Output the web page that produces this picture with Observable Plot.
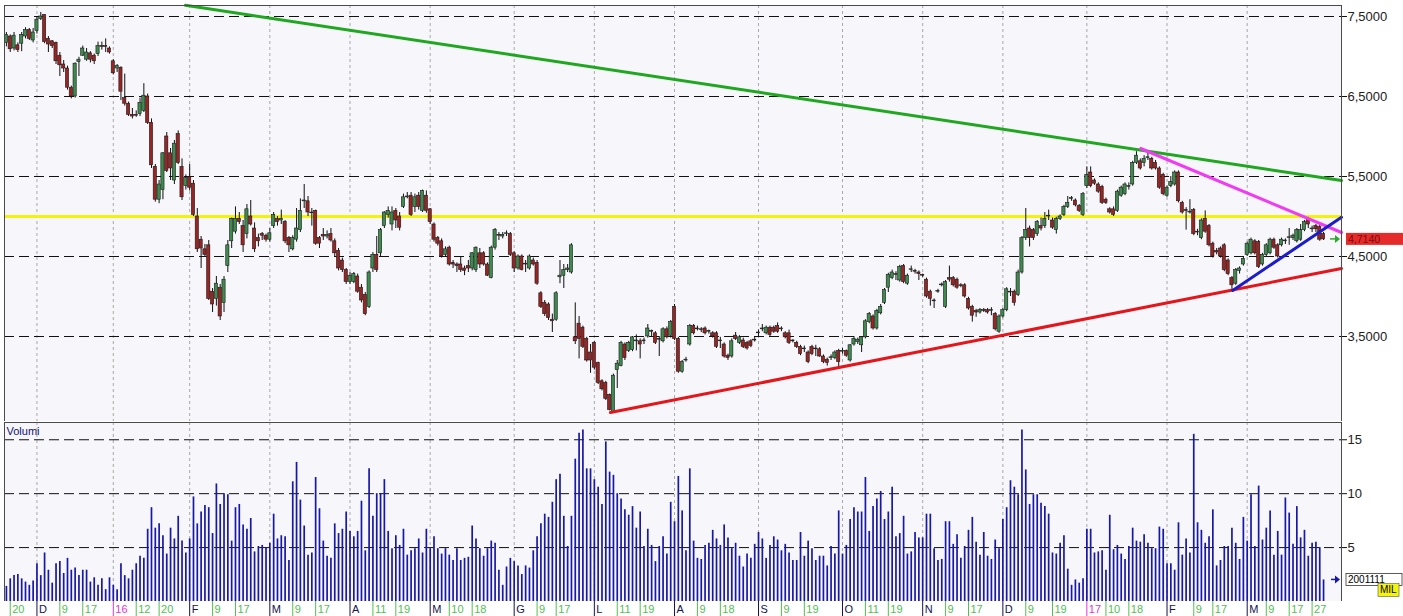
<!DOCTYPE html>
<html><head><meta charset="utf-8">
<script src="https://cdn.jsdelivr.net/npm/d3@7"></script>
<script src="https://cdn.jsdelivr.net/npm/@observablehq/plot@0.6"></script>
<style>
body{margin:0;background:#fff;width:1403px;height:616px;overflow:hidden;font-family:"Liberation Sans",Arial,sans-serif}
#chart svg{display:block}
</style></head><body><div id="chart"></div>
<script>
// Daily candles [open, high, low, close], Nov 19 2015 -> Mar 30 2017
const candles = [
[7.17,7.30,7.12,7.27],[7.25,7.27,7.05,7.09],[7.10,7.30,7.07,7.26],[7.14,7.17,7.05,7.08],[7.16,7.30,7.06,7.27],
[7.25,7.36,7.22,7.33],[7.33,7.35,7.20,7.22],[7.20,7.35,7.17,7.30],[7.32,7.50,7.28,7.46],[7.47,7.55,7.45,7.50],
[7.52,7.52,7.16,7.18],[7.22,7.25,7.05,7.15],[7.19,7.20,7.10,7.13],[7.17,7.18,6.90,6.94],[7.01,7.05,6.75,6.89],
[6.90,6.95,6.80,6.85],[6.85,6.88,6.58,6.61],[6.61,6.63,6.47,6.50],[6.50,6.92,6.48,6.91],[6.93,6.99,6.75,6.96],
[7.01,7.13,7.00,7.10],[6.96,7.10,6.94,7.05],[7.04,7.06,6.92,6.96],[7.01,7.03,6.90,6.94],[7.03,7.18,7.00,7.13],
[7.13,7.18,7.08,7.12],[7.13,7.22,7.05,7.12],[7.10,7.12,7.03,7.05],[6.94,6.96,6.77,6.79],[6.85,6.90,6.80,6.88],
[6.86,6.87,6.45,6.56],[6.48,6.78,6.38,6.41],[6.41,6.43,6.25,6.27],[6.27,6.35,6.22,6.25],[6.27,6.32,6.24,6.26],
[6.28,6.48,6.25,6.42],[6.32,6.66,6.30,6.51],[6.50,6.53,6.15,6.17],[6.17,6.22,5.60,5.64],[5.62,5.65,5.18,5.21],
[5.21,5.45,5.16,5.40],[5.33,5.80,5.21,5.79],[6.00,6.05,5.55,5.57],[5.79,5.85,5.45,5.60],[5.45,5.95,5.40,5.91],
[6.03,6.07,5.65,5.67],[5.62,5.72,5.20,5.24],[5.38,5.52,5.33,5.48],[5.49,5.65,5.32,5.36],[5.41,5.45,5.00,5.02],
[5.00,5.10,4.55,4.59],[4.71,4.75,4.35,4.60],[4.59,4.65,4.50,4.52],[4.64,4.70,3.95,3.97],[4.06,4.10,3.80,3.90],
[3.97,4.25,3.88,4.16],[4.11,4.15,3.70,3.75],[3.92,4.25,3.80,4.21],[4.38,4.70,4.30,4.64],[4.69,4.98,4.60,4.97],
[4.81,5.12,4.78,4.97],[4.97,5.05,4.90,4.93],[4.88,4.95,4.55,4.64],[4.78,5.15,4.72,5.09],[5.00,5.20,4.88,4.90],
[4.85,4.92,4.55,4.59],[4.73,4.78,4.62,4.69],[4.78,4.80,4.70,4.76],[4.76,4.78,4.68,4.71],[4.71,4.85,4.68,4.79],
[4.88,5.05,4.85,5.02],[4.97,5.00,4.88,4.93],[4.95,5.08,4.90,4.97],[4.93,4.95,4.66,4.69],[4.73,4.75,4.55,4.64],
[4.59,4.76,4.57,4.73],[4.71,5.10,4.68,4.85],[4.83,5.22,4.80,5.07],[5.19,5.40,5.10,5.20],[5.19,5.25,5.00,5.05],
[5.05,5.10,4.88,5.04],[5.07,5.08,4.64,4.66],[4.73,4.75,4.60,4.66],[4.77,4.85,4.70,4.75],[4.75,4.82,4.72,4.77],
[4.78,4.85,4.68,4.70],[4.69,4.72,4.50,4.54],[4.57,4.60,4.32,4.35],[4.45,4.48,4.30,4.33],[4.33,4.35,4.15,4.18],
[4.18,4.30,4.15,4.26],[4.18,4.30,4.16,4.28],[4.25,4.28,4.04,4.06],[4.11,4.15,3.92,3.95],[4.02,4.05,3.76,3.78],
[3.87,4.32,3.85,4.30],[4.35,4.55,4.30,4.52],[4.52,4.75,4.30,4.33],[4.54,4.85,4.50,4.83],[4.88,5.06,4.85,5.05],
[5.02,5.12,4.98,5.07],[4.90,5.12,4.82,5.05],[5.07,5.10,4.85,4.95],[5.00,5.05,4.82,4.86],[5.12,5.28,5.10,5.24],
[5.24,5.30,5.22,5.25],[5.26,5.30,5.00,5.02],[5.12,5.28,5.05,5.24],[5.26,5.30,5.08,5.12],[5.07,5.33,5.05,5.32],
[5.26,5.32,5.04,5.07],[5.09,5.10,4.90,4.93],[4.90,4.92,4.68,4.71],[4.73,4.75,4.63,4.66],[4.69,4.72,4.48,4.50],
[4.52,4.62,4.50,4.59],[4.61,4.63,4.38,4.40],[4.42,4.45,4.35,4.40],[4.40,4.42,4.30,4.38],[4.40,4.50,4.30,4.33],
[4.35,4.38,4.26,4.32],[4.38,4.45,4.30,4.35],[4.35,4.55,4.32,4.54],[4.33,4.62,4.30,4.61],[4.54,4.60,4.35,4.40],
[4.54,4.56,4.38,4.40],[4.40,4.42,4.25,4.26],[4.23,4.63,4.22,4.61],[4.61,4.85,4.58,4.83],[4.77,4.80,4.70,4.76],
[4.75,4.80,4.72,4.77],[4.78,4.82,4.75,4.79],[4.78,4.80,4.50,4.52],[4.54,4.56,4.30,4.35],[4.35,4.52,4.33,4.50],
[4.50,4.52,4.32,4.33],[4.40,4.45,4.30,4.41],[4.35,4.52,4.33,4.50],[4.45,4.48,4.38,4.40],[4.42,4.45,4.14,4.16],
[4.04,4.06,3.85,3.87],[3.92,3.95,3.75,3.78],[3.90,3.92,3.70,3.73],[3.71,3.78,3.55,3.69],[3.71,4.06,3.69,4.04],
[4.24,4.45,4.16,4.26],[4.26,4.40,4.10,4.33],[4.33,4.40,4.30,4.35],[4.30,4.66,4.28,4.64],[3.49,3.92,3.40,3.44],
[3.66,3.75,3.22,3.47],[3.61,3.63,3.35,3.37],[3.47,3.49,3.18,3.20],[3.30,3.40,3.04,3.20],[3.42,3.44,3.08,3.11],
[3.17,3.18,2.90,2.92],[2.94,2.96,2.82,2.84],[2.92,2.94,2.70,2.72],[2.77,2.78,2.57,2.58],[2.56,3.03,2.55,3.01],
[3.08,3.20,2.85,3.16],[3.13,3.44,3.12,3.42],[3.40,3.42,3.20,3.23],[3.32,3.44,3.30,3.42],[3.33,3.50,3.31,3.49],
[3.44,3.52,3.32,3.45],[3.44,3.47,3.22,3.40],[3.44,3.48,3.40,3.45],[3.50,3.65,3.48,3.60],[3.57,3.58,3.50,3.56],
[3.54,3.56,3.40,3.42],[3.47,3.50,3.25,3.46],[3.44,3.61,3.42,3.59],[3.59,3.62,3.47,3.49],[3.51,3.70,3.48,3.68],
[3.87,3.90,3.45,3.47],[3.47,3.49,3.04,3.06],[3.06,3.20,3.04,3.18],[3.20,3.24,3.18,3.21],[3.40,3.65,3.38,3.63],
[3.63,3.65,3.52,3.54],[3.59,3.63,3.57,3.60],[3.59,3.61,3.55,3.58],[3.60,3.62,3.52,3.54],[3.56,3.58,3.53,3.57],
[3.54,3.56,3.48,3.50],[3.54,3.56,3.35,3.37],[3.44,3.49,3.35,3.45],[3.40,3.42,3.23,3.25],[3.26,3.28,3.20,3.23],
[3.25,3.47,3.23,3.44],[3.51,3.55,3.45,3.47],[3.42,3.51,3.40,3.49],[3.45,3.48,3.35,3.37],[3.42,3.44,3.33,3.35],
[3.44,3.46,3.36,3.38],[3.46,3.50,3.43,3.45],[3.54,3.58,3.50,3.55],[3.59,3.65,3.56,3.60],[3.54,3.63,3.52,3.61],
[3.61,3.63,3.50,3.52],[3.61,3.63,3.54,3.56],[3.63,3.67,3.54,3.56],[3.59,3.62,3.56,3.60],[3.54,3.56,3.47,3.49],
[3.54,3.58,3.40,3.42],[3.45,3.46,3.42,3.44],[3.42,3.44,3.35,3.37],[3.37,3.39,3.26,3.28],[3.34,3.38,3.30,3.35],
[3.30,3.32,3.16,3.18],[3.37,3.39,3.26,3.28],[3.35,3.39,3.25,3.34],[3.34,3.36,3.24,3.25],[3.25,3.27,3.16,3.18],
[3.21,3.23,3.13,3.17],[3.23,3.27,3.20,3.24],[3.23,3.32,3.21,3.30],[3.32,3.34,3.09,3.18],[3.31,3.35,3.28,3.32],
[3.32,3.33,3.24,3.26],[3.20,3.40,3.18,3.39],[3.40,3.50,3.38,3.47],[3.43,3.48,3.40,3.46],[3.39,3.50,3.30,3.49],
[3.49,3.71,3.47,3.69],[3.68,3.80,3.66,3.78],[3.75,3.77,3.58,3.60],[3.60,3.84,3.58,3.82],[3.79,3.90,3.77,3.87],
[3.92,4.10,3.90,4.08],[4.11,4.29,4.05,4.27],[4.23,4.33,4.21,4.30],[4.27,4.31,4.20,4.28],[4.20,4.39,4.18,4.37],
[4.38,4.40,4.16,4.18],[4.16,4.28,4.14,4.26],[4.33,4.38,4.30,4.34],[4.32,4.34,4.28,4.31],[4.30,4.32,4.20,4.28],
[4.27,4.28,4.24,4.26],[4.21,4.23,3.98,4.00],[4.06,4.08,3.88,3.97],[3.95,3.97,3.85,3.94],[4.06,4.09,4.04,4.07],
[4.14,4.17,4.12,4.15],[3.87,4.20,3.85,4.18],[4.23,4.38,4.18,4.21],[4.23,4.25,4.12,4.14],[4.21,4.23,4.09,4.11],
[4.14,4.16,4.11,4.13],[4.14,4.16,3.98,4.00],[3.97,3.99,3.83,3.85],[3.87,3.89,3.68,3.76],[3.82,3.84,3.74,3.80],
[3.80,3.85,3.78,3.83],[3.83,3.85,3.80,3.82],[3.83,3.85,3.78,3.80],[3.82,3.86,3.76,3.83],[3.78,3.80,3.57,3.59],
[3.56,3.77,3.54,3.75],[3.75,3.85,3.73,3.83],[3.83,4.11,3.81,4.09],[4.06,4.10,4.00,4.05],[4.06,4.08,3.88,3.92],
[4.02,4.33,4.00,4.30],[4.30,4.75,4.28,4.73],[4.73,5.10,4.70,4.83],[4.85,4.88,4.62,4.73],[4.83,4.85,4.70,4.73],
[4.78,4.95,4.75,4.93],[4.88,4.98,4.82,4.85],[4.88,5.05,4.85,4.97],[5.00,5.08,4.95,5.01],[4.95,4.98,4.84,4.86],
[4.83,4.99,4.78,4.97],[4.97,5.02,4.95,5.00],[5.02,5.14,5.00,5.12],[5.12,5.25,5.10,5.17],[5.22,5.25,5.19,5.23],
[5.20,5.22,5.12,5.14],[5.13,5.15,5.05,5.07],[5.02,5.30,5.00,5.28],[5.38,5.62,5.35,5.52],[5.55,5.62,5.36,5.38],
[5.45,5.47,5.39,5.41],[5.40,5.42,5.29,5.31],[5.37,5.39,5.15,5.17],[5.21,5.23,5.15,5.17],[5.09,5.11,5.03,5.05],
[5.09,5.12,5.00,5.02],[5.07,5.33,5.05,5.31],[5.26,5.38,5.24,5.36],[5.28,5.42,5.26,5.40],[5.37,5.42,5.33,5.38],
[5.40,5.69,5.38,5.67],[5.67,5.81,5.65,5.76],[5.69,5.72,5.58,5.60],[5.67,5.76,5.62,5.72],[5.73,5.80,5.70,5.74],
[5.72,5.74,5.58,5.60],[5.67,5.70,5.58,5.60],[5.60,5.62,5.34,5.36],[5.52,5.54,5.26,5.28],[5.26,5.38,5.24,5.36],
[5.38,5.50,5.36,5.43],[5.40,5.57,5.38,5.55],[5.55,5.57,5.17,5.19],[5.17,5.19,5.03,5.05],[5.08,5.11,4.83,5.07],
[5.05,5.21,5.03,5.06],[5.08,5.10,4.76,4.78],[4.81,4.84,4.76,4.80],[4.73,4.97,4.71,4.95],[4.97,5.07,4.79,4.81],
[4.88,4.90,4.62,4.64],[4.66,4.68,4.48,4.50],[4.57,4.60,4.52,4.55],[4.60,4.62,4.48,4.50],[4.64,4.66,4.31,4.33],
[4.45,4.47,4.26,4.28],[4.23,4.25,4.09,4.14],[4.16,4.35,4.14,4.33],[4.32,4.37,4.28,4.35],[4.40,4.50,4.38,4.47],
[4.52,4.68,4.50,4.66],[4.54,4.73,4.52,4.71],[4.69,4.71,4.52,4.54],[4.68,4.70,4.35,4.37],[4.40,4.54,4.38,4.52],
[4.52,4.66,4.50,4.64],[4.54,4.73,4.52,4.71],[4.71,4.73,4.59,4.61],[4.64,4.66,4.48,4.50],[4.64,4.73,4.62,4.71],
[4.69,4.72,4.65,4.70],[4.73,4.85,4.64,4.74],[4.73,4.78,4.70,4.76],[4.69,4.85,4.67,4.83],[4.71,4.90,4.69,4.83],
[4.83,4.95,4.81,4.93],[4.97,4.99,4.85,4.90],[4.84,4.88,4.80,4.85],[4.88,4.90,4.80,4.84],[4.87,4.89,4.69,4.71],
[4.78,4.80,4.70,4.714]
];
// Volumes, millions of shares
const volumes = [
1.4,2.1,2.4,2.5,2.1,1.8,1.5,1.9,3.5,2.4,4.5,2.9,1.7,3.5,3.7,2.6,4.0,2.9,3.1,2.4,
2.9,2.9,1.8,2.2,1.5,2.1,1.1,2.2,1.5,1.1,3.5,2.4,2.1,2.9,3.5,4.2,4.0,6.7,8.7,6.8,
7.2,6.1,4.4,6.8,5.8,7.9,5.6,4.5,5.8,9.7,7.2,8.3,8.9,8.7,6.3,10.9,9.0,10.0,9.9,5.6,
8.7,9.0,7.1,6.7,7.7,4.6,5.1,5.2,5.0,5.4,
8.1,5.8,6.1,6.0,3.8,11.1,12.9,9.4,7.0,4.3,4.5,11.5,8.6,5.6,4.2,4.0,7.2,6.3,6.7,8.3,
6.5,6.0,6.5,9.3,4.7,12.3,7.9,10.0,10.0,11.3,6.5,4.9,6.1,5.2,6.7,4.3,4.7,4.9,5.8,4.5,
6.7,4.9,6.0,4.9,4.4,4.9,4.3,3.8,4.9,3.8,4.0,4.1,7.0,5.8,4.9,4.2,4.9,5.6,5.4,2.9,
1.5,3.2,4.0,3.7,3.3,2.5,3.3,3.1,4.7,6.0,
7.2,8.1,7.8,9.2,11.3,11.8,7.9,5.1,7.9,13.2,15.6,15.9,12.3,12.3,11.3,10.6,9.0,14.8,12.0,11.7,
10.0,9.5,8.5,8.0,8.8,6.8,8.3,5.1,6.7,5.2,3.7,5.1,6.0,4.4,9.2,7.4,11.6,8.4,4.7,12.3,
5.6,4.0,3.9,5.2,5.4,6.6,5.8,5.2,7.1,5.9,4.9,5.4,4.2,3.2,4.4,4.0,5.3,6.4,5.8,4.0,
5.2,6.0,5.7,4.7,5.3,4.5,3.8,3.8,6.4,4.2,5.6,
4.9,3.8,4.2,4.2,3.3,5.1,4.4,8.4,4.4,5.2,7.6,8.7,8.3,8.3,11.5,6.5,8.8,9.5,10.2,7.6,
8.3,10.6,6.0,6.3,7.9,4.4,4.6,6.4,5.9,5.9,8.1,8.1,4.9,3.8,3.9,7.4,7.4,5.3,6.2,4.0,
5.1,6.6,7.8,5.5,4.3,6.4,4.2,3.9,5.7,4.9,7.6,8.7,11.2,10.6,9.9,15.9,12.2,9.0,9.9,9.9,
9.1,8.8,8.1,4.5,4.4,5.4,6.1,3.0,1.5,2.0,1.7,
2.1,6.7,6.7,4.5,4.6,4.7,2.9,8.0,4.8,5.2,4.4,3.9,5.1,6.8,5.6,5.5,6.2,5.4,4.9,4.9,
6.9,6.7,3.5,3.5,2.9,7.3,4.3,5.8,4.5,15.5,7.3,6.6,5.4,6.0,8.5,3.3,3.8,5.1,5.1,6.8,
5.4,3.9,7.8,5.6,9.9,5.1,10.7,5.7,6.8,8.4,4.3,6.5,4.3,9.6,8.2,5.3,8.8,5.9,6.6,4.2,
5.4,5.5,5.0,2.0
];
const lastVolumeLabel = "2001111";
const volumeUnit = "MIL";
const priceTicks = [3.5, 4.5, 5.5, 6.5, 7.5];
const volumeTicks = [5, 10, 15];
// x-axis ticks (trading-day index), labels and kind (d=day, m=month, y=year)
const tickIndex  = [1,8,14,20,28,34,40,48,54,60,69,75,81,90,96,102,111,116,122,133,139,144,154,160,166,175,181,187,197,203,209,219,225,231,240,246,252,261,267,274,283,288,294,304,311,316,325,330,336,342];
const tickLabels = ["20","D","9","17","16","12","20","F","9","17","M","9","17","A","11","19","M","10","18","G","9","17","L","11","19","A","9","18","S","9","19","O","11","19","N","9","17","D","9","19","17","10","18","F","9","17","M","9","17","27"];
const tickKind   = ["d","m","d","d","y","d","d","m","d","d","m","d","d","m","d","d","m","d","d","m","d","d","m","d","d","m","d","d","m","d","d","m","d","d","m","d","d","m","d","d","y","d","d","m","d","d","m","d","d","d"];
const monthGrid = [8,28,48,69,90,111,133,154,175,197,219,240,261,283,304,325];
// drawn trend lines: [index, price]
const lineGreen   = [[46.9, 7.64], [349.7, 5.45]];
const lineRed     = [[158.2, 2.55], [349.7, 4.35]];
const lineMagenta = [[297.1, 5.85], [349.7, 4.80]];
const lineBlue    = [[321.2, 4.075], [349.7, 4.99]];
const lineYellow  = [5.0];

const W = 1403, ML = 4, MR = 62;
const xDomain = [-0.5, 349.7];
const rows = candles.map((c, i) => ({i, o: c[0], h: c[1], l: c[2], c: c[3], up: c[3] >= c[0]}));
const vrows = volumes.map((v, i) => ({i, v}));
const fmt = d => d.toFixed(4).replace(".", ",");
const dash = "10,5";
const bg = "#f6f6fb";
const FONT = "Liberation Sans, Arial, sans-serif";

const price = Plot.plot({
  width: W, height: 421, marginTop: 5, marginBottom: 0, marginLeft: ML, marginRight: MR,
  x: {domain: xDomain, axis: null},
  y: {domain: [2.4375, 7.6375], axis: null},
  style: {fontFamily: FONT, color: "#222", background: "white"},
  marks: [
    Plot.frame({fill: bg}),
    Plot.ruleX(monthGrid, {stroke: "#a9a9a9", strokeDasharray: "3,3"}),
    Plot.ruleY(priceTicks, {stroke: "#111", strokeDasharray: dash}),
    Plot.axisY(priceTicks, {anchor: "right", label: null, tickSize: 5, tickPadding: 1, tickFormat: fmt, fontSize: 13, stroke: "#111"}),
    Plot.ruleY(lineYellow, {stroke: "#f2f20c", strokeWidth: 3}),
    Plot.ruleX(rows, {x: "i", y1: "l", y2: "h", stroke: "#111", strokeWidth: 1}),
    Plot.rect(rows, {x1: d => d.i - 0.42, x2: d => d.i + 0.42, y1: "o", y2: "c",
      fill: d => d.up ? "#3f8a4f" : "#9a2323", stroke: "#1a1a1a", strokeWidth: 0.6}),
    Plot.line(lineGreen, {x: d => d[0], y: d => d[1], stroke: "#1fa81f", strokeWidth: 3}),
    Plot.line(lineRed, {x: d => d[0], y: d => d[1], stroke: "#e3161b", strokeWidth: 3}),
    Plot.line(lineMagenta, {x: d => d[0], y: d => d[1], stroke: "#f03cf0", strokeWidth: 3}),
    Plot.line(lineBlue, {x: d => d[0], y: d => d[1], stroke: "#1c1cc8", strokeWidth: 3}),
    Plot.frame({stroke: "#4a4a4a"})
  ]
});

const vol = Plot.plot({
  width: W, height: 180, marginTop: 1, marginBottom: 0, marginLeft: ML, marginRight: MR,
  x: {domain: xDomain, axis: null},
  y: {domain: [0, 16.6], axis: null},
  style: {fontFamily: FONT, color: "#222", background: "white"},
  marks: [
    Plot.frame({fill: bg}),
    Plot.ruleX(monthGrid, {stroke: "#a9a9a9", strokeDasharray: "3,3"}),
    Plot.ruleY(volumeTicks, {stroke: "#111", strokeDasharray: dash}),
    Plot.axisY(volumeTicks, {anchor: "right", label: null, tickSize: 5, tickPadding: 1, fontSize: 13, stroke: "#111"}),
    Plot.ruleX(vrows, {x: "i", y1: 0, y2: "v", stroke: "#1818a8", strokeWidth: 1.7}),
    Plot.text(["Volumi"], {frameAnchor: "top-left", dx: 2, dy: 5, fill: "#12126e", fontSize: 11}),
    Plot.frame({stroke: "#4a4a4a"})
  ]
});

const ticks = tickIndex.map((i, k) => ({i, label: tickLabels[k], kind: tickKind[k]}));
const kindColor = {m: "#14144e", d: "#52c052", y: "#e236d8"};
const axis = Plot.plot({
  width: W, height: 15, marginTop: 0, marginBottom: 0, marginLeft: ML, marginRight: MR,
  x: {domain: xDomain, axis: null},
  y: {domain: [0, 1], axis: null},
  style: {fontFamily: FONT, background: "white"},
  marks: [
    Plot.ruleX(ticks, {x: "i", stroke: d => kindColor[d.kind], strokeWidth: 1}),
    Plot.text(ticks, {x: "i", text: "label", fill: d => kindColor[d.kind], textAnchor: "start", dx: 2, frameAnchor: "middle", fontSize: 11})
  ]
});

const root = document.getElementById("chart");
root.append(price, vol, axis);

function label(sel, x, y, txt, size, fill) {
  sel.append("text").attr("x", x).attr("y", y).attr("font-size", size)
    .attr("font-family", FONT).attr("text-anchor", "start").attr("fill", fill).text(txt);
}
// last-price annotation
{
  const xs = price.scale("x"), ys = price.scale("y");
  const last = candles[candles.length - 1][3];
  const y = ys.apply(last), xr = xs.apply(xDomain[1]);
  const s = d3.select(price);
  s.append("path").attr("d", `M${xr - 11},${y}h6`).attr("stroke", "#2ea82e").attr("stroke-width", 1.5);
  s.append("path").attr("d", `M${xr - 6},${y - 4}l5,4l-5,4z`).attr("fill", "#2ea82e");
  s.append("rect").attr("x", xr + 5).attr("y", y - 6).attr("width", W - xr - 5).attr("height", 12).attr("fill", "#e52a2a");
  label(s, xr + 7, y + 4, fmt(last), 10.5, "#7a0c0c");
}
// last-volume annotation
{
  const xs = vol.scale("x"), ys = vol.scale("y");
  const lastV = volumes[volumes.length - 1];
  const y = ys.apply(lastV), xr = xs.apply(xDomain[1]);
  const s = d3.select(vol);
  s.append("path").attr("d", `M${xr - 10},${y}h5`).attr("stroke", "#1818a8").attr("stroke-width", 1.5);
  s.append("path").attr("d", `M${xr - 6},${y - 4}l5,4l-5,4z`).attr("fill", "#1818a8");
  s.append("rect").attr("x", xr + 5).attr("y", y - 6).attr("width", W - xr - 6).attr("height", 12)
    .attr("fill", "#fff").attr("stroke", "#333").attr("stroke-width", 0.8);
  label(s, xr + 7, y + 4, lastVolumeLabel, 10, "#000");
  s.append("rect").attr("x", xr + 37).attr("y", y + 4).attr("width", 21).attr("height", 13)
    .attr("fill", "#f4f40c").attr("stroke", "#555").attr("stroke-width", 0.6);
  label(s, xr + 39, y + 14, volumeUnit, 10, "#000");
}
</script></body></html>
